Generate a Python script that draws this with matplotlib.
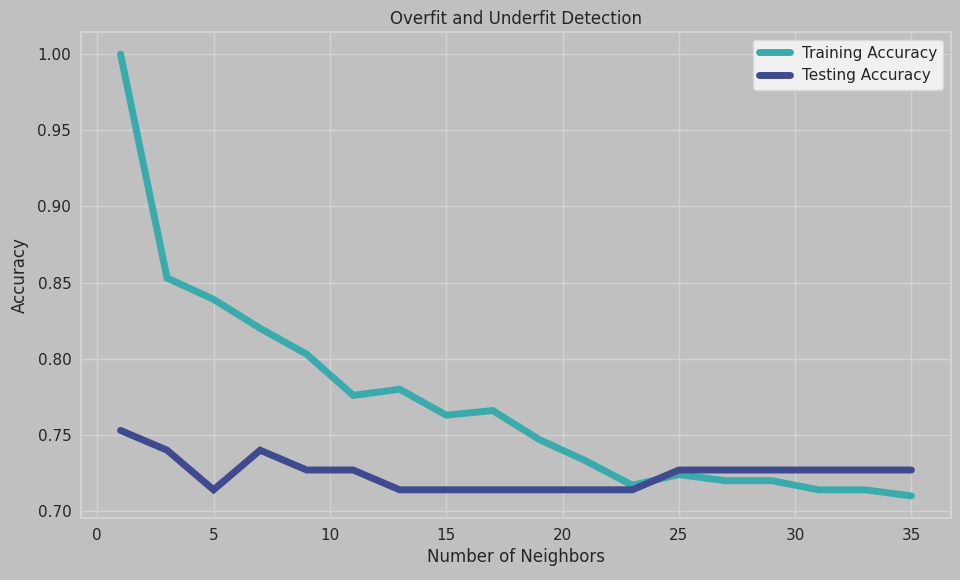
import matplotlib
matplotlib.use("Agg")
import matplotlib.pyplot as plt

neighbors = [1, 3, 5, 7, 9, 11, 13, 15, 17, 19, 21, 23, 25, 27, 29, 31, 33, 35]
train_acc = [1.000, 0.853, 0.839, 0.820, 0.803, 0.776, 0.780, 0.763, 0.766, 0.747,
             0.733, 0.717, 0.724, 0.720, 0.720, 0.714, 0.714, 0.710]
test_acc = [0.753, 0.740, 0.714, 0.740, 0.727, 0.727, 0.714, 0.714, 0.714, 0.714,
            0.714, 0.714, 0.727, 0.727, 0.727, 0.727, 0.727, 0.727]

bg = "#c0c0c0"
fig = plt.figure(figsize=(9.6, 5.8), dpi=100, facecolor=bg)
ax = fig.add_axes([81/960, 1 - 518/580, (951-81)/960, (518-32)/580])
ax.set_facecolor(bg)

ax.plot(neighbors, train_acc, color="#3aabac", lw=5, solid_capstyle="round",
        solid_joinstyle="miter", label="Training Accuracy")
ax.plot(neighbors, test_acc, color="#3f4a8f", lw=5, solid_capstyle="round",
        solid_joinstyle="miter", label="Testing Accuracy")

ax.margins(x=0.05, y=0.05)
ax.set_xticks([0, 5, 10, 15, 20, 25, 30, 35])
ax.set_yticks([0.70, 0.75, 0.80, 0.85, 0.90, 0.95, 1.00])
ax.set_yticklabels([f"{v:.2f}" for v in [0.70, 0.75, 0.80, 0.85, 0.90, 0.95, 1.00]])
ax.grid(True, color="#d2d2d2", lw=1)
ax.set_axisbelow(True)
for s in ax.spines.values():
    s.set_color("#d2d2d2")
    s.set_linewidth(1.5)
ax.tick_params(colors="#262626", labelsize=11, length=0, pad=7)

ax.set_title("Overfit and Underfit Detection", fontsize=12, color="#262626")
ax.set_xlabel("Number of Neighbors", fontsize=12, color="#262626")
ax.set_ylabel("Accuracy", fontsize=12, color="#262626", labelpad=6)

leg = ax.legend(loc="upper right", fontsize=11, facecolor="#f0f0f0", edgecolor="#d8d8d8",
                framealpha=1)
for t in leg.get_texts():
    t.set_color("#262626")

fig.savefig("out.png", dpi=100, facecolor=bg)
